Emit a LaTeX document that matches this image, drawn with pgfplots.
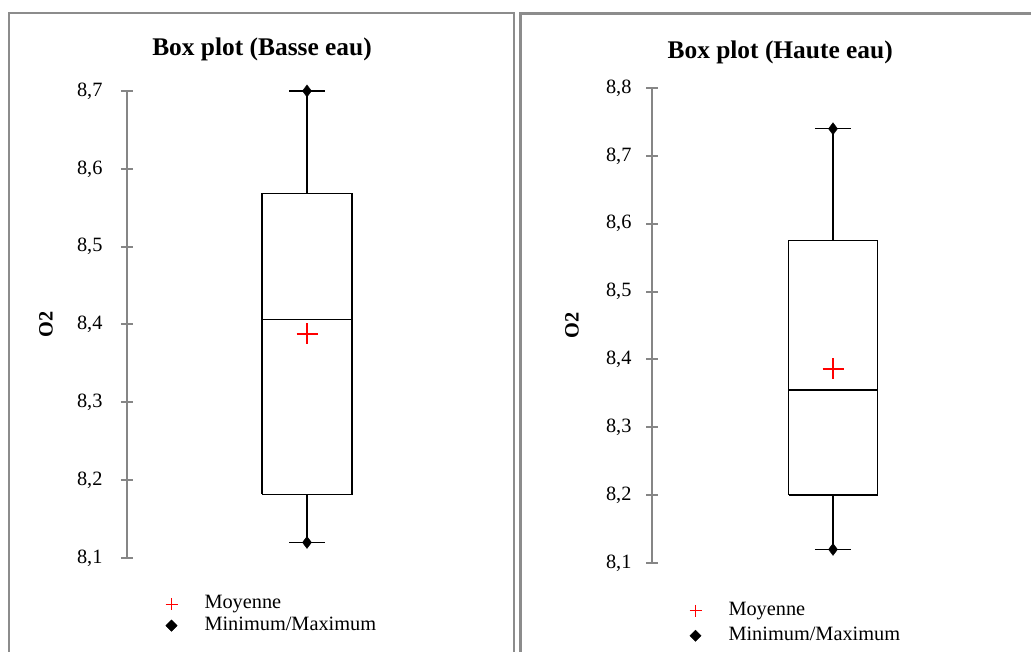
\documentclass[border=0pt]{standalone}
\usepackage{fontspec}
\setmainfont{Liberation Serif}
\usepackage{pgfplots}
\pgfplotsset{compat=1.18}

\definecolor{panelgray}{RGB}{140,140,140}
\definecolor{axisgray}{RGB}{134,134,134}

\pgfplotsset{
  boxpanel/.style={
    scale only axis,
    axis y line=left,
    axis x line=none,
    axis line style={-, axisgray, line width=2.5bp},
    y tick style={axisgray, line width=2bp},
    tick align=center,
    major tick length=12bp,
    xmin=0, xmax=2, xtick=\empty,
    ytick distance=0.1,
    clip=false,
    /pgf/number format/assume math mode=true,
    /pgf/number format/use comma,
    /pgf/number format/fixed,
    /pgf/number format/fixed zerofill,
    /pgf/number format/precision=1,
    tick label style={font=\fontsize{20.4}{24}\selectfont},
    title style={font=\fontsize{25.5}{30}\selectfont\bfseries, anchor=center},
    ylabel style={font=\fontsize{20.4}{24}\selectfont\bfseries, at={(axis description cs:0,0.5)}, anchor=center},
    legend cell align=left,
    legend style={draw=none, fill=none, inner sep=0pt, outer sep=0pt,
      at={(axis description cs:0,0)}, anchor=north west,
      column sep=25bp,
      font=\fontsize{20.4}{24}\selectfont},
  },
  boxline/.style={black, line width=1.3bp, forget plot, mark=none},
}

% boites : q1, mediane, q3 ; moustaches min, max
\pgfplotstableread{
x     y
0.75  8.182
1.25  8.182
1.25  8.568
0.75  8.568
0.75  8.182
}\boxbasse
\pgfplotstableread{
x      y
0.755  8.200
1.245  8.200
1.245  8.575
0.755  8.575
0.755  8.200
}\boxhaute

\begin{document}
\begin{tikzpicture}
\path[use as bounding box] (0,0) rectangle (1031bp,652bp);
% cadres des deux panneaux
\draw[panelgray, line width=2.7bp] (9bp,-10bp) -- (9bp,639bp) -- (514bp,639bp) -- (514bp,-10bp);
\draw[panelgray, line width=2.7bp] (520.7bp,-10bp) -- (520.7bp,638.7bp) -- (1045bp,638.7bp);

% Basse eau
\begin{axis}[boxpanel,
  at={(127bp,94bp)}, anchor=south west,
  width=360bp, height=467bp,
  ymin=8.1, ymax=8.7,
  yticklabel style={xshift=-15bp},
  title={Box plot (Basse eau)},
  title style={at={(axis description cs:0.375,1)}, yshift=36bp},
  ylabel={O2}, ylabel style={yshift=81bp},
  legend style={xshift=38.5bp, yshift=-35.5bp,
    nodes={inner xsep=2bp, inner ysep=1.2bp, text height=14bp, text depth=5bp}},
]
\addplot[boxline] table {\boxbasse};
\addplot[boxline] coordinates {(0.75,8.406) (1.25,8.406)};
\addplot[boxline] coordinates {(1,8.568) (1,8.7)};
\addplot[boxline] coordinates {(1,8.182) (1,8.12)};
\addplot[boxline] coordinates {(0.9,8.7) (1.1,8.7)};
\addplot[boxline] coordinates {(0.9,8.12) (1.1,8.12)};
\addplot[only marks, mark=+, red, mark size=10.5bp, line width=1.8bp,
  legend image post style={mark size=6bp, line width=1.3bp}] coordinates {(1,8.388)};
\addplot[only marks, mark=diamond*, black, mark size=6bp,
  legend image post style={mark=square*, mark options={rotate=45}, mark size=4bp}] coordinates {(1,8.12) (1,8.7)};
\legend{Moyenne, Minimum/Maximum}
\end{axis}

% Haute eau
\begin{axis}[boxpanel,
  at={(652bp,89bp)}, anchor=south west,
  width=362bp, height=475bp,
  ymin=8.1, ymax=8.8,
  yticklabel style={xshift=-11bp},
  title={Box plot (Haute eau)},
  title style={at={(axis description cs:0.354,1)}, yshift=30bp},
  ylabel={O2}, ylabel style={yshift=80bp},
  legend style={xshift=37.5bp, yshift=-35.3bp,
    nodes={inner xsep=2bp, inner ysep=3bp, text height=14bp, text depth=5bp}},
]
\addplot[boxline] table {\boxhaute};
\addplot[boxline] coordinates {(0.755,8.355) (1.245,8.355)};
\addplot[boxline] coordinates {(1,8.575) (1,8.74)};
\addplot[boxline] coordinates {(1,8.20) (1,8.12)};
\addplot[boxline] coordinates {(0.9,8.74) (1.1,8.74)};
\addplot[boxline] coordinates {(0.9,8.12) (1.1,8.12)};
\addplot[only marks, mark=+, red, mark size=10.5bp, line width=1.8bp,
  legend image post style={mark size=6bp, line width=1.3bp}] coordinates {(1,8.386)};
\addplot[only marks, mark=diamond*, black, mark size=6bp,
  legend image post style={mark=square*, mark options={rotate=45}, mark size=4bp}] coordinates {(1,8.12) (1,8.74)};
\legend{Moyenne, Minimum/Maximum}
\end{axis}
\end{tikzpicture}
\end{document}
